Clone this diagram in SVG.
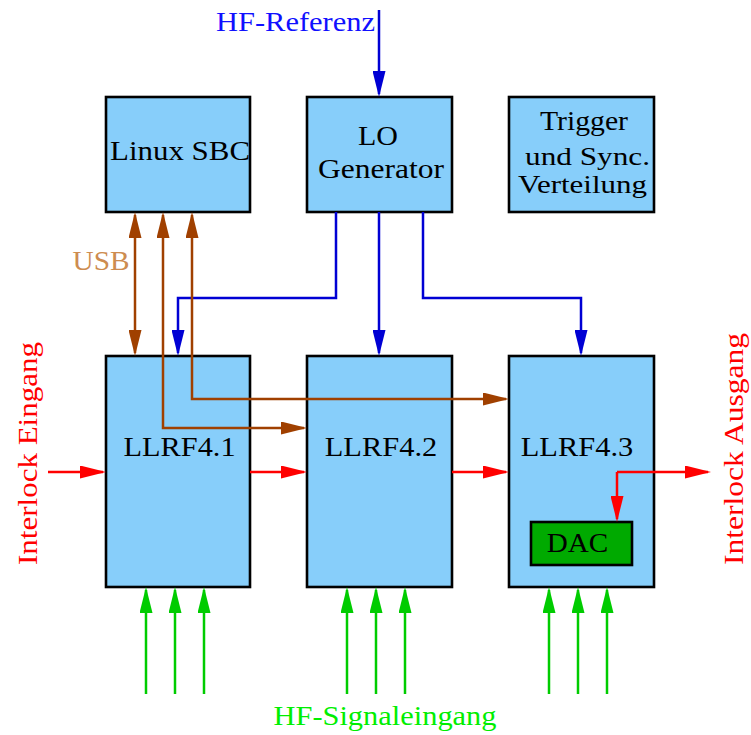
<svg xmlns="http://www.w3.org/2000/svg" width="751" height="735" viewBox="0 0 751 735">
<style>
.box{fill:#87cefa;stroke:#000;stroke-width:2.6}
.dac{fill:#00aa00;stroke:#000;stroke-width:2.6}
.c{text-anchor:middle}
.ln{fill:none;stroke-width:2.5;stroke-linejoin:miter}
.blue{stroke:#0000d4;marker-end:url(#ab)}
.brown{stroke:#a04000;marker-end:url(#ar);marker-start:url(#ar)}
.red{stroke:#ff0000;marker-end:url(#arr)}
.green{stroke:#00cc00;marker-end:url(#ag)}
</style>
<defs>
<marker id="ab" viewBox="0 0 26 13" markerWidth="26" markerHeight="13" refX="23" refY="6.5" orient="auto" markerUnits="userSpaceOnUse"><path d="M0,0 L26,6.5 L0,13 z" fill="#0000d4"/></marker>
<marker id="ar" viewBox="0 0 26 13" markerWidth="26" markerHeight="13" refX="23" refY="6.5" orient="auto-start-reverse" markerUnits="userSpaceOnUse"><path d="M0,0 L26,6.5 L0,13 z" fill="#a04000"/></marker>
<marker id="arr" viewBox="0 0 26 13" markerWidth="26" markerHeight="13" refX="23" refY="6.5" orient="auto" markerUnits="userSpaceOnUse"><path d="M0,0 L26,6.5 L0,13 z" fill="#ff0000"/></marker>
<marker id="ag" viewBox="0 0 26 13" markerWidth="26" markerHeight="13" refX="23" refY="6.5" orient="auto" markerUnits="userSpaceOnUse"><path d="M0,0 L26,6.5 L0,13 z" fill="#00cc00"/></marker>
</defs>

<g font-family="'Liberation Serif', 'Times New Roman', 'DejaVu Serif', serif" font-size="28" fill="#000">
<g id="linux-sbc">
<rect class="box" x="106" y="97" width="144" height="115"/>
<text class="c" x="180" y="160" textLength="140" lengthAdjust="spacingAndGlyphs">Linux SBC</text>
</g>
<g id="lo-generator">
<rect class="box" x="307" y="97" width="145" height="115"/>
<text class="c" x="378" y="145" textLength="40" lengthAdjust="spacingAndGlyphs">LO</text>
<text class="c" x="381" y="178" textLength="126" lengthAdjust="spacingAndGlyphs">Generator</text>
</g>
<g id="trigger">
<rect class="box" x="509" y="97" width="145" height="115"/>
<text class="c" x="584" y="130" textLength="88" lengthAdjust="spacingAndGlyphs">Trigger</text>
<text class="c" x="587.5" y="165" font-size="26" textLength="125" lengthAdjust="spacingAndGlyphs">und Sync.</text>
<text class="c" x="582.5" y="193" font-size="26" textLength="129" lengthAdjust="spacingAndGlyphs">Verteilung</text>
</g>
<g id="llrf41">
<rect class="box" x="106" y="356" width="144" height="231"/>
<text class="c" x="179.6" y="456" textLength="112" lengthAdjust="spacingAndGlyphs">LLRF4.1</text>
</g>
<g id="llrf42">
<rect class="box" x="307" y="356" width="145" height="231"/>
<text class="c" x="381" y="456" textLength="112.5" lengthAdjust="spacingAndGlyphs">LLRF4.2</text>
</g>
<g id="llrf43">
<rect class="box" x="509" y="356" width="145" height="231"/>
<text class="c" x="577" y="456" textLength="112.5" lengthAdjust="spacingAndGlyphs">LLRF4.3</text>
</g>
<g id="dac">
<rect class="dac" x="531" y="522" width="101" height="43"/>
<text class="c" x="577.5" y="552" textLength="61.5" lengthAdjust="spacingAndGlyphs">DAC</text>
</g>

<g id="connectors">
<path class="ln blue" d="M379,10 V94"/>
<path class="ln blue" d="M336,212 V298 H178 V353"/>
<path class="ln blue" d="M379,212 V353"/>
<path class="ln blue" d="M423,212 V298 H581 V353"/>
<path class="ln brown" d="M135,215 V353"/>
<path class="ln brown" d="M163,215 V428 H304"/>
<path class="ln brown" d="M192,215 V399 H506"/>
<path class="ln red" d="M48,472 H103"/>
<path class="ln red" d="M250,472 H304"/>
<path class="ln red" d="M452,472 H506"/>
<path class="ln red" d="M617,472 H708"/>
<path class="ln red" d="M617,472 V519"/>
<path class="ln green" d="M146,694 V590"/>
<path class="ln green" d="M175,694 V590"/>
<path class="ln green" d="M204,694 V590"/>
<path class="ln green" d="M347,694 V590"/>
<path class="ln green" d="M376,694 V590"/>
<path class="ln green" d="M405,694 V590"/>
<path class="ln green" d="M549,694 V590"/>
<path class="ln green" d="M578,694 V590"/>
<path class="ln green" d="M607,694 V590"/>
</g>

<g id="labels">
<text x="216" y="31" textLength="159" lengthAdjust="spacingAndGlyphs" fill="#1010ff">HF-Referenz</text>
<text x="72.5" y="270" textLength="57" lengthAdjust="spacingAndGlyphs" fill="#cd8c50">USB</text>
<text class="c" x="385" y="725" textLength="223" lengthAdjust="spacingAndGlyphs" fill="#00ee00">HF-Signaleingang</text>
<text class="c" transform="translate(36.5,453.5) rotate(-90)" x="0" y="0" textLength="223" lengthAdjust="spacingAndGlyphs" fill="#ff0000">Interlock Eingang</text>
<text class="c" transform="translate(743,449) rotate(-90)" x="0" y="0" textLength="232" lengthAdjust="spacingAndGlyphs" fill="#ff0000">Interlock Ausgang</text>
</g>
</g>
</svg>
